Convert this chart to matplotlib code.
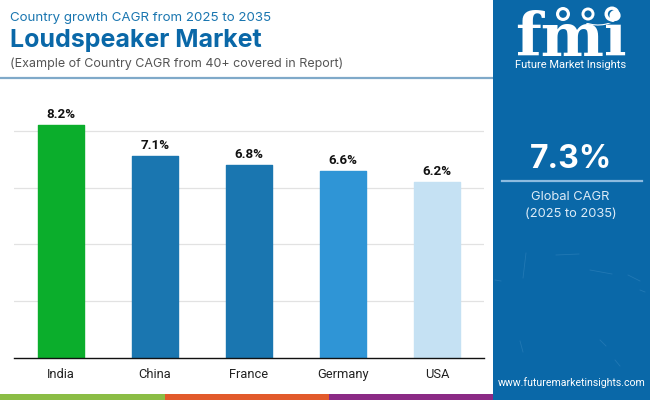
import matplotlib
matplotlib.use("Agg")
import matplotlib.pyplot as plt
from matplotlib.patches import Rectangle, Circle, Arc

countries = ["India", "China", "France", "Germany", "USA"]
cagr = [8.2, 7.1, 6.8, 6.6, 6.2]
bar_colors = ["#0BAE2C", "#1A76B0", "#1A76B0", "#2F95D6", "#C5E1F3"]
grid_ticks = [2, 4, 6, 8]
global_cagr = "7.3%"
PANEL = "#0A68A8"

W, H = 650, 400
fig = plt.figure(figsize=(W / 100, H / 100), dpi=100, facecolor="white")

# page layer in pixel coordinates
bg = fig.add_axes([0, 0, 1, 1])
bg.set_xlim(0, W); bg.set_ylim(H, 0); bg.axis("off")
bg.add_patch(Rectangle((493, 0), 157, 400, color=PANEL, lw=0))
bg.add_patch(Rectangle((0, 394), 165, 6, color="#8BBD45", lw=0))
bg.add_patch(Rectangle((165, 394), 164, 6, color="#E25A2B", lw=0))
bg.add_patch(Rectangle((329, 394), 164, 6, color="#8B2A85", lw=0))
bg.plot([0, 493], [78, 78], color="#7FA9C9", lw=1.6, solid_capstyle="butt")

bg.text(10.5, 18, "Country growth CAGR from 2025 to 2035", fontsize=9.6,
        family="Inter", color="#1A76B0", va="center")
bg.text(10.5, 41, "Loudspeaker Market", fontsize=18, family="Inter",
        weight="bold", color="#0A68A8", va="center")
bg.text(10.5, 64, "(Example of Country CAGR from 40+ covered in Report)", fontsize=9.0,
        family="Inter", color="#555555", va="center")

# chart
ax = fig.add_axes([14 / W, (H - 358) / H, (484 - 14) / W, (358 - 100) / H])
ax.set_facecolor("none")
x = list(range(len(countries)))
ax.set_xlim(-0.5, 4.5)
ax.set_ylim(0, 258 / 28.4)
ax.set_yticks(grid_ticks)
ax.grid(axis="y", color="#E2E2E2", lw=0.9)
ax.set_axisbelow(True)
ax.tick_params(axis="both", length=0)
ax.tick_params(axis="y", labelleft=False)
ax.bar(x, cagr, width=0.48, color=bar_colors, edgecolor=bar_colors, linewidth=1.0,
       joinstyle="round")
for xi, v in zip(x, cagr):
    ax.text(xi, v + 0.14, f"{v}%", ha="center", va="bottom", fontsize=9.6,
            family="Roboto", weight="bold", color="#111111")
ax.set_xticks(x, countries, fontsize=9.3, family="Roboto", color="#222222")
ax.tick_params(axis="x", pad=7)
for s in ["top", "left", "right"]:
    ax.spines[s].set_visible(False)
ax.spines["bottom"].set_color("#111111")
ax.spines["bottom"].set_linewidth(1.0)

# right panel
top = fig.add_axes([0, 0, 1, 1])
top.set_xlim(0, W); top.set_ylim(H, 0); top.axis("off"); top.set_facecolor("none")
top.text(571, 160, global_cagr, color="white", fontsize=23, family="Inter", weight="bold",
         ha="center", va="center")
top.plot([502, 642], [181, 181], color="#8DBBE0", lw=1.6)
top.text(570, 197, "Global CAGR", color="#DCEBF7", fontsize=9.3, family="Inter",
         ha="center", va="center")
top.text(571, 214, "(2025 to 2035)", color="#DCEBF7", fontsize=9.3, family="Inter",
         ha="center", va="center")
top.text(572, 383, "www.futuremarketinsights.com", color="white", fontsize=7.6,
         family="Roboto", ha="center", va="center")

# faint texture
for (x0, y0, x1, y1) in [(526, 253, 523, 278), (628, 275, 640, 281), (495, 280, 501, 281),
                         (556, 255, 579, 254), (520, 341, 523, 352), (590, 270, 612, 274),
                         (600, 340, 606, 346), (640, 290, 645, 292), (615, 360, 620, 366)]:
    top.plot([x0, x1], [y0, y1], color="#3E8CC2", lw=0.6, alpha=0.45)

# logo
top.text(571, 55.5, "fmi", color="white", fontsize=43, family="DejaVu Serif", weight="bold",
         ha="center", va="baseline")
for y in range(22, 58, 5):
    top.plot([515, 630], [y, y], color=PANEL, lw=0.7)
for cx, cy, r in [(563, 14, 7), (588, 14, 6.5), (612, 14, 7.5)]:
    top.add_patch(Circle((cx, cy), r + 2, color=PANEL, lw=0))
    top.add_patch(Circle((cx, cy), r, color="white", lw=0))
    top.add_patch(Circle((cx, cy), r * 0.55, color=PANEL, lw=0))
top.add_patch(Arc((598, 6), 52, 38, theta1=25, theta2=125, color="white", lw=0.8))
top.text(571, 64.5, "Future Market Insights", color="white", fontsize=8, family="Roboto",
         ha="center", va="center")

fig.savefig("out.png", dpi=100, facecolor="white")
